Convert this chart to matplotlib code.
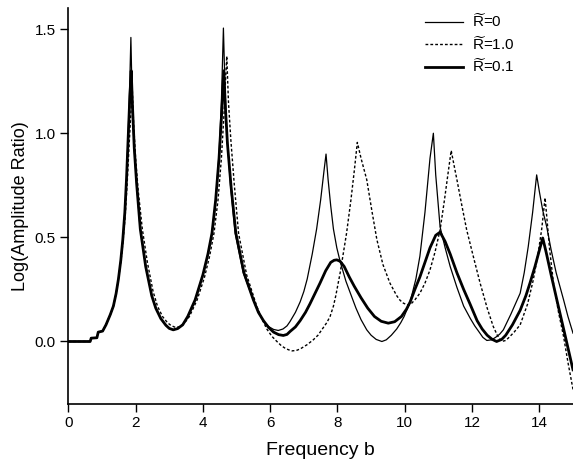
import matplotlib
matplotlib.use("Agg")
import matplotlib.pyplot as plt
import numpy as np

plt.rcParams["font.family"] = ["Liberation Sans", "DejaVu Sans"]
plt.rcParams["mathtext.fontset"] = "custom"
plt.rcParams["mathtext.rm"] = "Liberation Sans"

# R~ = 0 (thin solid)
pts_r0 = [
    (0, 0), (0.65, 0), (0.68, 0.016), (0.85, 0.018), (0.89, 0.045), (1.02, 0.05), (1.12, 0.08),
    (1.25, 0.13), (1.34, 0.17), (1.42, 0.23), (1.49, 0.30), (1.56, 0.39), (1.62, 0.49),
    (1.68, 0.62), (1.73, 0.78), (1.78, 1.0), (1.82, 1.2), (1.86, 1.46), (1.90, 1.15),
    (1.95, 0.95), (2.02, 0.78), (2.13, 0.55), (2.3, 0.36), (2.48, 0.22), (2.6, 0.16),
    (2.75, 0.11), (2.9, 0.078), (3.0, 0.063), (3.12, 0.056), (3.25, 0.062), (3.4, 0.08),
    (3.55, 0.12), (3.77, 0.2), (4.0, 0.32), (4.15, 0.42), (4.27, 0.52), (4.38, 0.68),
    (4.48, 0.9), (4.55, 1.15), (4.61, 1.505), (4.66, 1.2), (4.72, 0.98), (4.82, 0.75),
    (4.96, 0.52), (5.2, 0.33), (5.5, 0.2), (5.65, 0.14), (5.79, 0.1), (5.95, 0.072),
    (6.1, 0.058), (6.24, 0.053), (6.38, 0.06), (6.5, 0.075), (6.59, 0.096), (6.75, 0.14),
    (6.89, 0.19), (7.0, 0.24), (7.1, 0.3), (7.25, 0.42), (7.38, 0.54), (7.5, 0.68),
    (7.6, 0.82), (7.66, 0.90), (7.72, 0.78), (7.8, 0.65), (7.88, 0.54), (7.98, 0.45),
    (8.08, 0.384), (8.25, 0.29), (8.42, 0.216), (8.55, 0.16), (8.7, 0.105), (8.87, 0.056),
    (9.0, 0.03), (9.15, 0.01), (9.32, 0.0), (9.45, 0.008), (9.6, 0.03), (9.76, 0.06),
    (9.88, 0.09), (9.98, 0.12), (10.16, 0.19), (10.33, 0.3), (10.45, 0.41), (10.6, 0.62),
    (10.75, 0.88), (10.85, 1.0), (10.92, 0.8), (11.05, 0.55), (11.2, 0.45), (11.35, 0.36),
    (11.55, 0.26), (11.75, 0.17), (11.95, 0.11), (12.08, 0.075), (12.19, 0.05),
    (12.32, 0.02), (12.44, 0.005), (12.58, 0.008), (12.7, 0.02), (12.82, 0.035),
    (12.93, 0.056), (13.15, 0.13), (13.43, 0.232), (13.55, 0.33), (13.67, 0.456),
    (13.8, 0.62), (13.92, 0.80), (14.0, 0.72), (14.1, 0.63), (14.22, 0.55), (14.35, 0.44),
    (14.5, 0.33), (14.72, 0.2), (14.85, 0.12), (15.0, 0.04),
]

# R~ = 1.0 (dashed)
pts_r1 = [
    (0, 0), (0.65, 0), (0.68, 0.016), (0.85, 0.018), (0.89, 0.045), (1.02, 0.05), (1.12, 0.08),
    (1.25, 0.13), (1.34, 0.17), (1.42, 0.23), (1.49, 0.30), (1.56, 0.38), (1.62, 0.47),
    (1.69, 0.6), (1.75, 0.76), (1.81, 0.95), (1.86, 1.1), (1.90, 1.22), (1.94, 1.05),
    (2.0, 0.88), (2.08, 0.72), (2.2, 0.54), (2.35, 0.38), (2.52, 0.24), (2.65, 0.17),
    (2.8, 0.12), (2.95, 0.09), (3.05, 0.077), (3.18, 0.068), (3.3, 0.07), (3.45, 0.088),
    (3.6, 0.12), (3.83, 0.2), (4.05, 0.31), (4.2, 0.41), (4.33, 0.52), (4.45, 0.68),
    (4.55, 0.88), (4.63, 1.1), (4.68, 1.28), (4.71, 1.37), (4.76, 1.15), (4.83, 0.97),
    (4.93, 0.76), (5.06, 0.52), (5.3, 0.32), (5.6, 0.17), (5.75, 0.11), (5.9, 0.06),
    (6.05, 0.025), (6.2, 0.0), (6.33, -0.02), (6.45, -0.033), (6.55, -0.04), (6.65, -0.045),
    (6.78, -0.043), (6.9, -0.035), (7.1, -0.015), (7.28, 0.008), (7.42, 0.03), (7.55, 0.06),
    (7.68, 0.09), (7.78, 0.12), (7.88, 0.17), (7.95, 0.22), (8.08, 0.33), (8.27, 0.52),
    (8.4, 0.68), (8.5, 0.82), (8.59, 0.956), (8.7, 0.88), (8.87, 0.777), (9.02, 0.63),
    (9.17, 0.49), (9.35, 0.37), (9.56, 0.28), (9.76, 0.22), (9.86, 0.198), (9.96, 0.184),
    (10.06, 0.177), (10.16, 0.176), (10.3, 0.2), (10.45, 0.232), (10.6, 0.28), (10.75, 0.344),
    (10.9, 0.43), (11.05, 0.536), (11.18, 0.68), (11.28, 0.8), (11.38, 0.917), (11.46, 0.85),
    (11.55, 0.777), (11.7, 0.65), (11.84, 0.536), (12.05, 0.4), (12.24, 0.28), (12.45, 0.16),
    (12.63, 0.072), (12.75, 0.03), (12.88, 0.0), (13.0, 0.005), (13.1, 0.02), (13.25, 0.045),
    (13.43, 0.08), (13.65, 0.18), (13.82, 0.296), (13.97, 0.43), (14.07, 0.54), (14.17, 0.69),
    (14.22, 0.6), (14.3, 0.45), (14.42, 0.28), (14.57, 0.14), (14.72, 0.024), (14.85, -0.1),
    (15.0, -0.23),
]

# R~ = 0.1 (thick solid)
pts_r01 = [
    (0, 0), (0.65, 0), (0.68, 0.016), (0.85, 0.018), (0.89, 0.045), (1.02, 0.05), (1.12, 0.08),
    (1.25, 0.13), (1.34, 0.17), (1.42, 0.23), (1.49, 0.30), (1.56, 0.39), (1.62, 0.49),
    (1.68, 0.62), (1.73, 0.78), (1.78, 0.98), (1.83, 1.18), (1.87, 1.30), (1.91, 1.12),
    (1.96, 0.93), (2.03, 0.76), (2.14, 0.54), (2.3, 0.36), (2.48, 0.22), (2.6, 0.16),
    (2.75, 0.11), (2.9, 0.078), (3.0, 0.063), (3.12, 0.056), (3.25, 0.062), (3.4, 0.08),
    (3.55, 0.12), (3.77, 0.2), (4.0, 0.32), (4.15, 0.42), (4.27, 0.52), (4.38, 0.68),
    (4.48, 0.88), (4.56, 1.1), (4.62, 1.30), (4.67, 1.12), (4.73, 0.95), (4.84, 0.74),
    (4.98, 0.52), (5.22, 0.33), (5.5, 0.2), (5.65, 0.14), (5.8, 0.1), (5.95, 0.068),
    (6.1, 0.045), (6.25, 0.033), (6.39, 0.029), (6.5, 0.034), (6.59, 0.048), (6.75, 0.07),
    (6.89, 0.10), (7.05, 0.14), (7.18, 0.18), (7.33, 0.23), (7.48, 0.28), (7.65, 0.34),
    (7.8, 0.38), (7.9, 0.39), (7.98, 0.392), (8.08, 0.385), (8.2, 0.36), (8.35, 0.31),
    (8.5, 0.265), (8.7, 0.21), (8.9, 0.16), (9.1, 0.12), (9.3, 0.097), (9.51, 0.088),
    (9.7, 0.095), (9.9, 0.12), (10.05, 0.155), (10.16, 0.19), (10.3, 0.25), (10.45, 0.31),
    (10.6, 0.38), (10.75, 0.45), (10.92, 0.51), (11.05, 0.525), (11.2, 0.48), (11.35, 0.42),
    (11.55, 0.33), (11.75, 0.25), (11.94, 0.18), (12.15, 0.1), (12.3, 0.06), (12.45, 0.03),
    (12.6, 0.01), (12.73, 0.0), (12.88, 0.01), (13.0, 0.03), (13.2, 0.08), (13.43, 0.15),
    (13.6, 0.22), (13.72, 0.28), (13.87, 0.36), (13.97, 0.42), (14.1, 0.497), (14.2, 0.43),
    (14.35, 0.32), (14.52, 0.2), (14.75, 0.04), (15.0, -0.136),
]

labels = [r"$\widetilde{\mathrm{R}}$=0", r"$\widetilde{\mathrm{R}}$=1.0", r"$\widetilde{\mathrm{R}}$=0.1"]

x_r0, y_r0 = np.array(pts_r0).T
x_r1, y_r1 = np.array(pts_r1).T
x_r01, y_r01 = np.array(pts_r01).T

fig = plt.figure(figsize=(5.73, 4.68), dpi=100)
ax = fig.add_axes([0.1192, 0.1368, 0.8808, 0.8455])

ax.plot(x_r0, y_r0, color="black", linewidth=0.9, label=labels[0])
ax.plot(x_r1, y_r1, color="black", linewidth=1.0, linestyle=(0, (2, 1.5)), label=labels[1])
ax.plot(x_r01, y_r01, color="black", linewidth=2.0, label=labels[2])

ax.set_xlim(0, 15)
ax.set_ylim(-0.3, 1.6)
ax.set_xticks([0, 2, 4, 6, 8, 10, 12, 14])
ax.set_yticks([0.0, 0.5, 1.0, 1.5])
ax.set_yticklabels(["0.0", "0.5", "1.0", "1.5"])
ax.spines["top"].set_visible(False)
ax.spines["right"].set_visible(False)
ax.spines["left"].set_linewidth(1.2)
ax.spines["bottom"].set_linewidth(1.2)
ax.tick_params(axis="both", direction="out", length=6, width=1.0, labelsize=11, pad=3)

ax.set_xlabel("Frequency b", fontsize=14, labelpad=8)
ax.set_ylabel("Log(Amplitude Ratio)", fontsize=13, labelpad=4)

ax.legend(loc="upper left", bbox_to_anchor=(0.707, 0.99), frameon=False, fontsize=11,
          handlelength=2.5, handletextpad=0.6, labelspacing=0.3, borderaxespad=0, borderpad=0)

fig.savefig("out.png", dpi=100)
